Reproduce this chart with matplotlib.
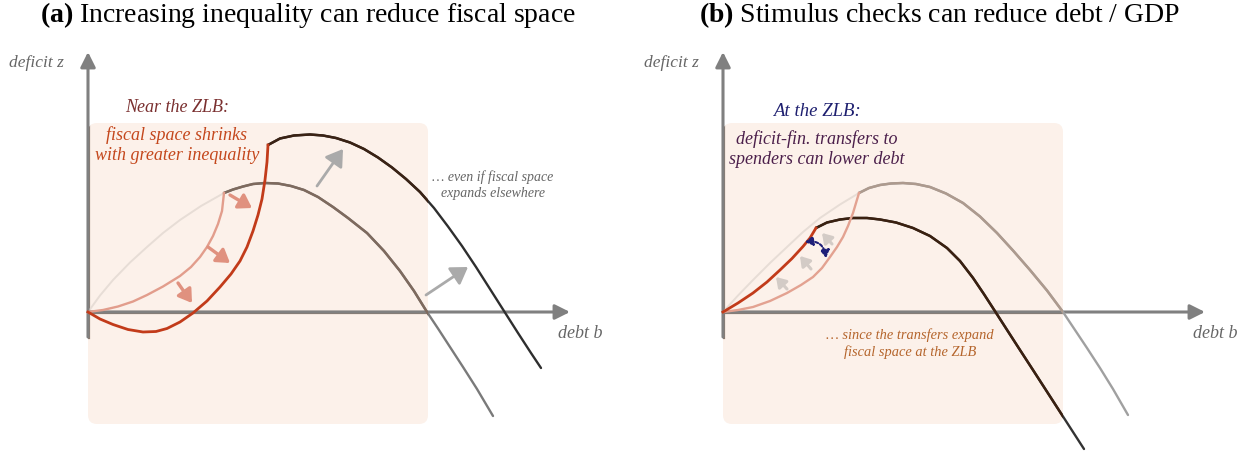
import matplotlib.pyplot as plt
from matplotlib.patches import FancyBboxPatch

plt.rcParams['font.family'] = ['Liberation Serif', 'DejaVu Serif']
plt.rcParams['mathtext.fontset'] = 'custom'
plt.rcParams['mathtext.rm'] = 'Liberation Serif'
plt.rcParams['mathtext.bf'] = 'Liberation Serif:bold'

# sketch values (debt b, deficit z), arbitrary units

# panel (a)
a_faint_b = [0, 1.2, 2.5, 4.2, 5.9, 7.5, 9.2, 11.3, 13.6]
a_faint_z = [0, 1.65, 3.2, 4.95, 6.5, 7.9, 9.2, 10.6, 11.9]
a_old_b = [13.6, 14.5, 15.5, 16.5, 17.7, 19.0, 20.3, 21.6, 23.0, 24.5, 26.0, 27.9,
           29.6, 31.2, 32.6, 33.9, 35.0, 36.2, 37.5, 38.9, 40.5]
a_old_z = [11.9, 12.25, 12.55, 12.8, 12.9, 12.85, 12.6, 12.2, 11.5, 10.5, 9.4, 7.9,
           6.1, 4.1, 2.1, 0, -1.65, -3.5, -5.5, -7.7, -10.4]
a_new_b = [18.0, 19.2, 20.6, 22.2, 23.5, 24.8, 26.2, 27.6, 29.0, 30.4, 31.8, 33.2,
           34.6, 36.0, 37.4, 38.8, 40.2, 41.6, 43.0, 44.3, 45.3]
a_new_z = [16.7, 17.35, 17.65, 17.75, 17.65, 17.4, 16.95, 16.3, 15.45, 14.45, 13.3, 12.0,
           10.4, 8.55, 6.6, 4.5, 2.3, 0.1, -2.1, -4.1, -5.6]
a_zlb_old_b = [0, 1.5, 3.0, 4.5, 5.9, 7.5, 9.2, 10.3, 11.2, 11.9, 12.5, 13.0, 13.4, 13.6]
a_zlb_old_z = [0, 0.2, 0.55, 1.05, 1.7, 2.55, 3.6, 4.5, 5.5, 6.5, 7.6, 8.8, 10.1, 11.9]
a_zlb_new_b = [0, 1.2, 2.5, 4.0, 5.5, 6.8, 7.9, 9.2, 10.5, 11.9, 13.2, 14.3, 15.2,
               15.9, 16.5, 17.0, 17.4, 17.7, 17.9, 18.0]
a_zlb_new_z = [0, -0.7, -1.25, -1.75, -2.0, -1.95, -1.65, -1.0, -0.1, 1.1, 2.5, 3.8, 5.1,
               6.5, 8.1, 9.7, 11.3, 13.2, 15.0, 16.7]
a_shift_from = [(14.2, 11.7), (12.0, 6.5), (9.0, 2.9)]
a_shift_to = [(16.4, 10.4), (14.2, 4.9), (10.4, 0.9)]
a_up_from = [(22.9, 12.6), (33.8, 1.7)]
a_up_to = [(25.5, 16.3), (38.0, 4.5)]

# panel (b)
b_faint_b = [0, 1.5, 3.0, 4.7, 6.4, 8.0, 9.7, 11.7, 13.6]
b_faint_z = [0, 1.65, 3.2, 4.9, 6.5, 8.0, 9.4, 10.75, 11.9]
b_old_b = [13.6, 14.6, 15.7, 16.8, 18.0, 19.3, 20.7, 22.3, 24.0, 25.7, 27.4, 29.0,
           30.7, 32.4, 34.0, 35.2, 36.4, 37.7, 39.0, 40.5]
b_old_z = [11.9, 12.4, 12.7, 12.85, 12.9, 12.8, 12.5, 11.85, 10.9, 9.55, 7.9, 6.15,
           4.2, 2.15, 0, -1.8, -3.6, -5.6, -7.7, -10.3]
b_new_b = [9.3, 10.4, 11.7, 13.0, 14.4, 15.7, 17.3, 19.0, 20.7, 22.4, 23.7, 25.0,
           26.1, 27.2, 28.5, 29.7, 31.0, 32.4, 34.0, 36.1]
b_new_z = [8.4, 8.95, 9.25, 9.4, 9.4, 9.25, 8.95, 8.4, 7.6, 6.4, 5.1, 3.41,
           1.78, 0.08, -1.94, -3.8, -5.8, -7.97, -10.45, -13.7]
b_zlb_old_b = [0, 1.5, 3.0, 4.7, 6.4, 7.8, 9.0, 9.9, 10.7, 11.4, 12.0, 12.5, 13.0, 13.3, 13.6]
b_zlb_old_z = [0, 0.2, 0.5, 1.1, 1.9, 2.7, 3.5, 4.4, 5.5, 6.5, 7.5, 8.6, 9.9, 10.9, 11.9]
b_zlb_new_b = [0, 1.5, 3.0, 4.4, 5.7, 6.9, 8.0, 8.7, 9.3]
b_zlb_new_z = [0, 0.9, 1.9, 3.0, 4.2, 5.35, 6.55, 7.4, 8.4]
b_shift_from = [(6.4, 2.3), (8.8, 4.3), (10.9, 6.8)]
b_shift_to = [(5.3, 3.5), (7.7, 5.6), (9.9, 7.9)]
b_swap = [(10.3, 5.4), (8.2, 7.0)]

fig = plt.figure(figsize=(12.55, 4.53), dpi=100)
ax_a = fig.add_axes([0, 0, 627 / 1255, 1])
ax_b = fig.add_axes([627 / 1255, 0, 628 / 1255, 1])
ax_a.set_xlim(-8.8, 53.9)
ax_b.set_xlim(-9.6, 53.2)
for ax in (ax_a, ax_b):
    ax.set_ylim(-14.1, 31.2)
    ax.axis('off')


def panel_base(ax):
    box = FancyBboxPatch((0, -11.2), 34.0, 30.1, boxstyle='round,pad=0,rounding_size=0.9',
                         fc='#fcf1ea', ec='none', zorder=0)
    ax.add_patch(box)
    head = '-|>,head_length=0.9,head_width=0.45'
    ax.annotate('', xy=(0, 26.0), xytext=(0, -2.5),
                arrowprops=dict(arrowstyle=head, color='#808080', lw=2.2, shrinkA=0, shrinkB=0))
    ax.annotate('', xy=(48.2, 0), xytext=(0, 0),
                arrowprops=dict(arrowstyle=head, color='#808080', lw=2.2, shrinkA=0, shrinkB=0))
    # axis tinted where it runs over the shaded box
    for xs, ys in (([0, 0], [-2.5, 20]), ([0, 36], [0, 0])):
        ln, = ax.plot(xs, ys, color='#8c7a6e', lw=2.3, zorder=2)
        ln.set_clip_path(box)
    ax.text(-5.2, 24.9, 'deficit z', style='italic', fontsize=12.5, color='#666666',
            ha='center', va='center')
    ax.text(49.2, -2.1, 'debt b', style='italic', fontsize=13, color='#666666',
            ha='center', va='center')
    return box


def frontier(ax, box, b, z, out_color, in_color, lw=1.7):
    ax.plot(b, z, color=out_color, lw=lw, solid_capstyle='round', solid_joinstyle='round', zorder=3)
    ln, = ax.plot(b, z, color=in_color, lw=lw + 0.1, solid_capstyle='round',
                  solid_joinstyle='round', zorder=3)
    ln.set_clip_path(box)


def arrows(ax, starts, ends, color, lw, scale):
    for s, e in zip(starts, ends):
        ax.annotate('', xy=e, xytext=s, zorder=4,
                    arrowprops=dict(arrowstyle='-|>,head_length=0.7,head_width=0.45',
                                    color=color, lw=lw, mutation_scale=scale,
                                    shrinkA=0, shrinkB=0))


# ---- (a) ----
box_a = panel_base(ax_a)
ax_a.plot(a_faint_b, a_faint_z, color='#e7ddd6', lw=1.4, zorder=2)
frontier(ax_a, box_a, a_old_b, a_old_z, '#7a7a7a', '#7e6a5e')
frontier(ax_a, box_a, a_new_b, a_new_z, '#2e2e2e', '#3a2214')
ax_a.plot(a_zlb_old_b, a_zlb_old_z, color='#e29d8c', lw=1.7, zorder=3, solid_joinstyle='round')
ax_a.plot(a_zlb_new_b, a_zlb_new_z, color='#c23b1a', lw=2.0, zorder=3, solid_joinstyle='round')
arrows(ax_a, a_shift_from, a_shift_to, '#e0917f', 2.4, 11)
arrows(ax_a, a_up_from, a_up_to, '#aaaaaa', 2.0, 14)

ax_a.text(8.9, 20.5, 'Near the ZLB:', style='italic', fontsize=13, color='#7a2f2f',
          ha='center', va='center', zorder=5)
ax_a.text(8.9, 16.7, 'fiscal space shrinks\nwith greater inequality', style='italic',
          fontsize=13, color='#c4471c', ha='center', va='center', linespacing=1.2, zorder=5)
ax_a.text(40.5, 12.65, '… even if fiscal space\nexpands elsewhere', style='italic',
          fontsize=10, color='#666666', ha='center', va='center', linespacing=1.3, zorder=5)

# ---- (b) ----
box_b = panel_base(ax_b)
ax_b.plot(b_faint_b, b_faint_z, color='#e7ddd6', lw=1.4, zorder=2)
frontier(ax_b, box_b, b_old_b, b_old_z, '#a0a0a0', '#ad9a8e')
frontier(ax_b, box_b, b_new_b, b_new_z, '#333333', '#3a2010')
ax_b.plot(b_zlb_old_b, b_zlb_old_z, color='#e3a291', lw=1.7, zorder=3, solid_joinstyle='round')
ax_b.plot(b_zlb_new_b, b_zlb_new_z, color='#c23b1a', lw=2.0, zorder=3, solid_joinstyle='round')
arrows(ax_b, b_shift_from, b_shift_to, '#d3cbc6', 2.2, 8)
ax_b.annotate('', xy=b_swap[1], xytext=b_swap[0], zorder=4,
              arrowprops=dict(arrowstyle='<|-|>,head_length=0.5,head_width=0.3',
                              color='#1f1f78', lw=1.5, mutation_scale=9, linestyle=(0, (1.5, 1)),
                              connectionstyle='arc3,rad=0.5', shrinkA=0, shrinkB=0))

ax_b.text(9.4, 20.0, 'At the ZLB:', style='italic', fontsize=13.5, color='#1f2070',
          ha='center', va='center', zorder=5)
ax_b.text(9.4, 16.3, 'deficit-fin. transfers to\nspenders can lower debt', style='italic',
          fontsize=13, color='#4b1f4b', ha='center', va='center', linespacing=1.2, zorder=5)
ax_b.text(18.7, -3.15, '… since the transfers expand\nfiscal space at the ZLB', style='italic',
          fontsize=10.4, color='#b5652c', ha='center', va='center', linespacing=1.3, zorder=5)

# titles
fig.text(308 / 1255, 1 - 15 / 453, r'$\mathbf{(a)}$ Increasing inequality can reduce fiscal space',
         fontsize=20, ha='center', va='center')
fig.text(940 / 1255, 1 - 15 / 453, r'$\mathbf{(b)}$ Stimulus checks can reduce debt / GDP',
         fontsize=20, ha='center', va='center')

fig.savefig('out.png', dpi=100)
